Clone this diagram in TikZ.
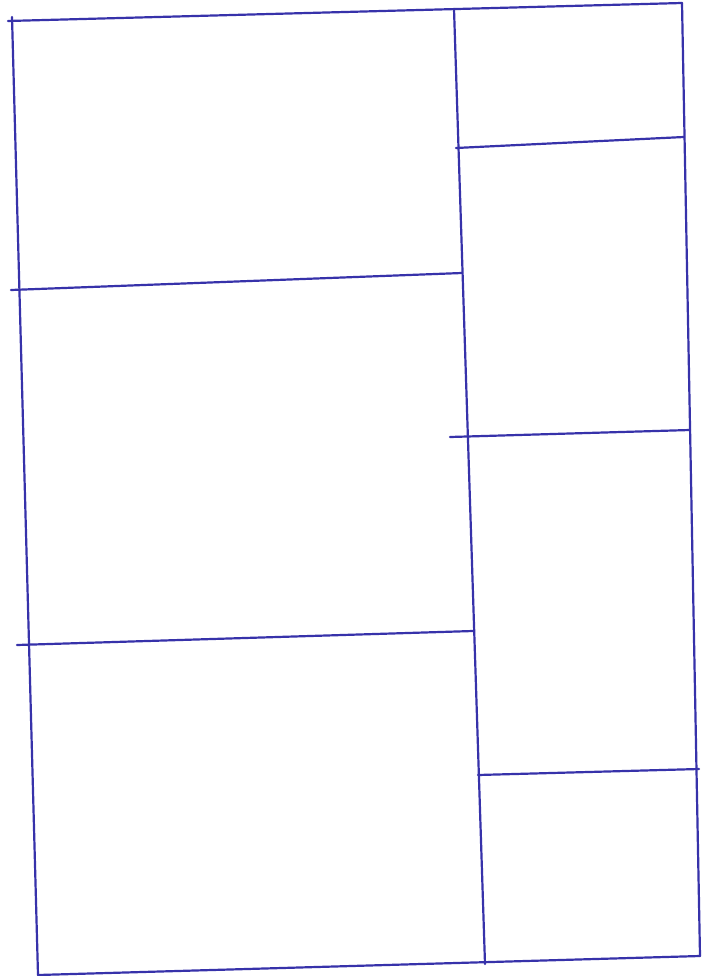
\documentclass[tikz,border=0pt]{standalone}
\definecolor{ink}{RGB}{55,50,170}
\begin{document}
\begin{tikzpicture}[x=1pt,y=-1pt,
  pen/.style={draw=ink,line width=2.2pt,line cap=round,line join=round}]
\useasboundingbox[fill=white] (0,0) rectangle (703,976);
% outer frame corners
\coordinate (TL) at (8,21);
\coordinate (TR) at (682,3);
\coordinate (BR) at (700,956);
\coordinate (BL) at (38,975);
% middle divider
\coordinate (MT) at (454,9);
\coordinate (MB) at (485,964);
% left horizontals
\coordinate (L1a) at (11,290);
\coordinate (L1b) at (462,273);
\coordinate (L2a) at (17,645);
\coordinate (L2b) at (473,631);
% right horizontals
\coordinate (R1a) at (456,148);
\coordinate (R1b) at (684,137);
\coordinate (R2a) at (450,437);
\coordinate (R2b) at (690,430);
\coordinate (R3a) at (478,775);
\coordinate (R3b) at (699,769);
% left border (slight overshoot at top)
\coordinate (LT) at (12,17);
\draw[pen] (TL) -- (TR);
\draw[pen] (LT) -- (BL);
\draw[pen] (TR) -- (BR);
\draw[pen] (BL) -- (BR);
\draw[pen] (MT) -- (MB);
\draw[pen] (L1a) -- (L1b);
\draw[pen] (L2a) -- (L2b);
\draw[pen] (R1a) -- (R1b);
\draw[pen] (R2a) -- (R2b);
\draw[pen] (R3a) -- (R3b);
\end{tikzpicture}
\end{document}
